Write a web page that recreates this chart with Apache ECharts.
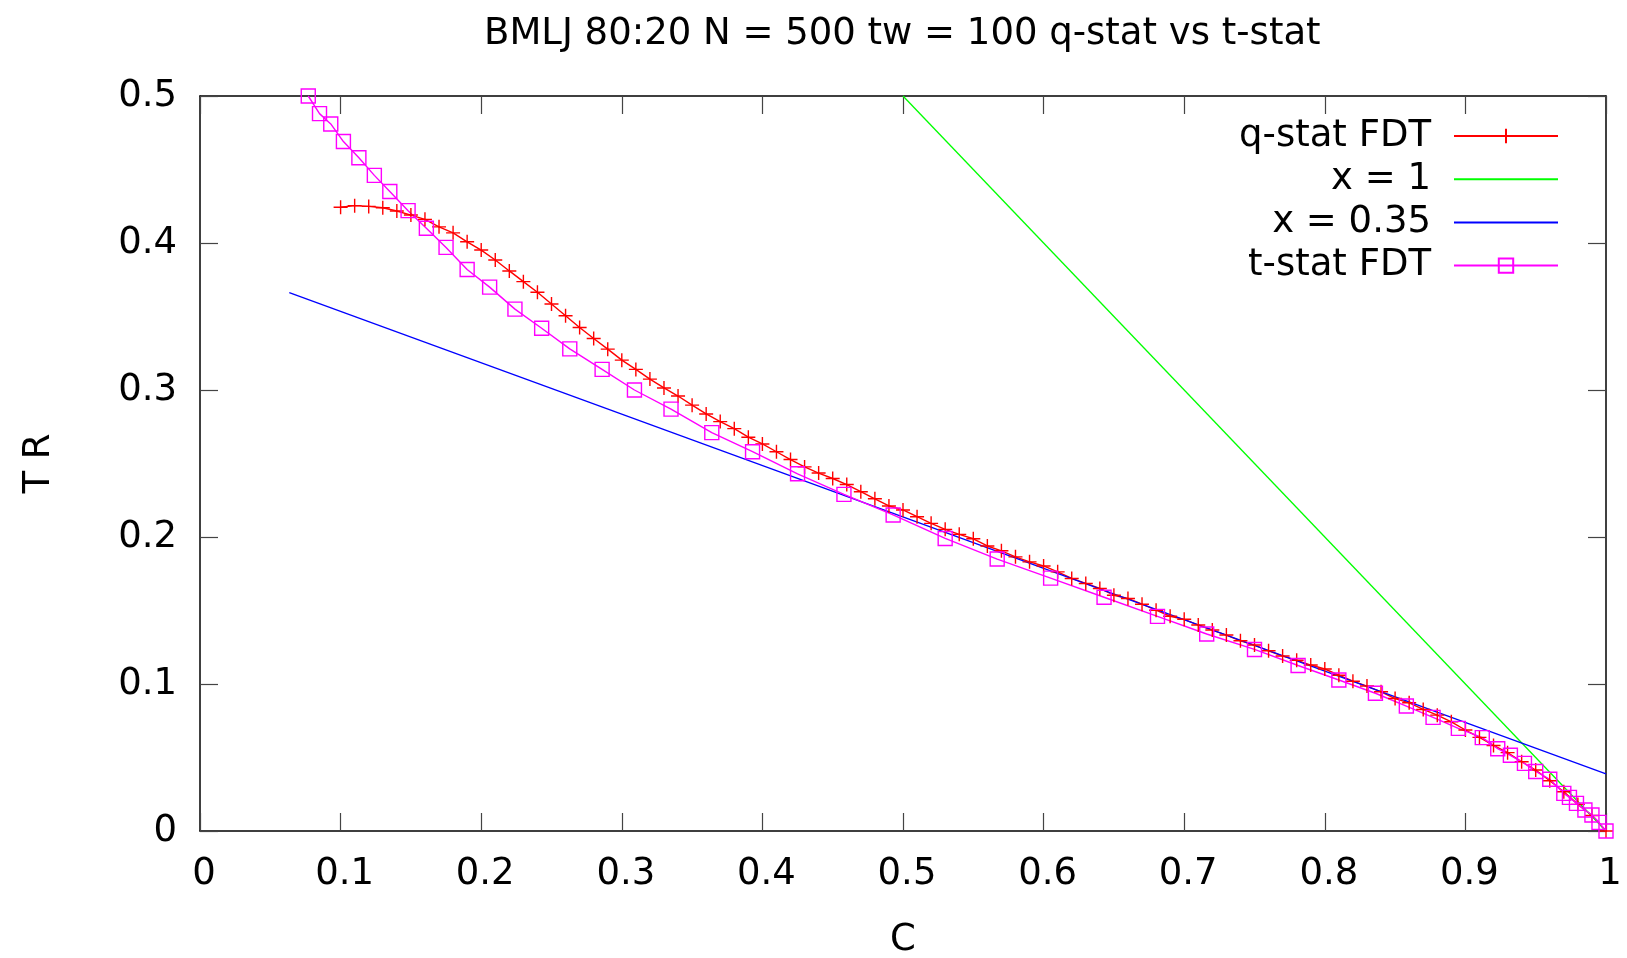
<!DOCTYPE html>
<html><head><meta charset="utf-8">
<script src="https://cdn.jsdelivr.net/npm/echarts@6/dist/echarts.min.js"></script>
<style>html,body{margin:0;padding:0;background:#fff}#chart{width:1627px;height:958px}</style>
</head><body><div id="chart"></div>
<script>
const titleText = 'BMLJ 80:20 N = 500 tw = 100 q-stat vs t-stat';
const xName = 'C';
const yName = 'T R';
const seriesNames = ['q-stat FDT', 'x = 1', 'x = 0.35', 't-stat FDT'];

const qX = [0.10,0.11,0.12,0.13,0.14,0.15,0.16,0.17,0.18,0.19,0.20,0.21,0.22,0.23,0.24,0.25,0.26,0.27,0.28,0.29,
            0.30,0.31,0.32,0.33,0.34,0.35,0.36,0.37,0.38,0.39,0.40,0.41,0.42,0.43,0.44,0.45,0.46,0.47,0.48,0.49,
            0.50,0.51,0.52,0.53,0.54,0.55,0.56,0.57,0.58,0.59,0.60,0.61,0.62,0.63,0.64,0.65,0.66,0.67,0.68,0.69,
            0.70,0.71,0.72,0.73,0.74,0.75,0.76,0.77,0.78,0.79,0.80,0.81,0.82,0.83,0.84,0.85,0.86,0.87,0.88,0.89,
            0.90,0.91,0.92,0.93,0.94,0.95,0.96,0.97,0.98,0.99,1.00];
const qY = [0.4243,0.4254,0.4249,0.4240,0.4218,0.4190,0.4161,0.4110,0.4069,0.4008,
            0.3952,0.3884,0.3810,0.3737,0.3665,0.3585,0.3505,0.3425,0.3350,0.3278,
            0.3203,0.3140,0.3074,0.3014,0.2959,0.2897,0.2837,0.2785,0.2737,0.2679,
            0.2633,0.2580,0.2527,0.2477,0.2435,0.2398,0.2357,0.2308,0.2260,0.2211,
            0.2184,0.2138,0.2093,0.2052,0.2018,0.1988,0.1939,0.1906,0.1865,0.1831,
            0.1803,0.1763,0.1718,0.1684,0.1650,0.1604,0.1582,0.1543,0.1502,0.1461,
            0.1440,0.1401,0.1367,0.1333,0.1294,0.1265,0.1226,0.1190,0.1162,0.1129,
            0.1102,0.1060,0.1019,0.0986,0.0947,0.0901,0.0872,0.0827,0.0788,0.0743,
            0.0687,0.0637,0.0582,0.0533,0.0471,0.0415,0.0342,0.0267,0.0181,0.0105,0.0000];

const tX = [0.077,0.085,0.093,0.102,0.113,0.124,0.135,0.148,0.161,0.175,0.190,0.206,0.224,0.243,0.263,0.286,
            0.309,0.335,0.364,0.393,0.425,0.458,0.493,0.530,0.567,0.605,0.643,0.681,0.716,0.750,0.781,0.810,
            0.836,0.858,0.877,0.895,0.912,0.923,0.932,0.942,0.950,0.960,0.970,0.974,0.979,0.985,0.990,0.995,1.000];
const tY = [0.500,0.488,0.481,0.469,0.458,0.446,0.435,0.422,0.410,0.397,0.382,0.370,0.355,0.342,0.328,0.314,
            0.300,0.287,0.271,0.258,0.243,0.229,0.215,0.199,0.185,0.172,0.159,0.146,0.134,0.1235,0.1126,0.1027,
            0.0937,0.0850,0.0773,0.0698,0.0635,0.0560,0.0515,0.0460,0.0405,0.0352,0.0256,0.0229,0.0188,0.0143,0.0109,0.0059,0.000];

const greenX = [0.5, 1.0];
const greenY = [0.5, 0.0];
const blueX = [0.0635, 1.0];
const blueY = [0.3663, 0.0388];

function zip(xs, ys) { return xs.map((x, i) => [x, ys[i]]); }

const FONT = 'DejaVu Sans';
const FS = 37;
const chart = echarts.init(document.getElementById('chart'), null, {renderer: 'canvas'});

function axisCommon(extra) {
  return Object.assign({
    type: 'value',
    axisLine: {show: true, onZero: false, lineStyle: {color: '#000', width: 1.5}},
    axisTick: {show: true, inside: true, length: 18, lineStyle: {color: '#444', width: 1.2}},
    splitLine: {show: false},
    axisLabel: {show: false}
  }, extra);
}

const option = {
  backgroundColor: '#fff',
  animation: false,
  title: {
    text: titleText, left: 484, top: 14, padding: 0,
    textStyle: {fontFamily: FONT, fontSize: FS, fontWeight: 'normal', color: '#000', lineHeight: 40}
  },
  grid: {left: 200, right: 21, top: 96, bottom: 127, containLabel: false, outerBoundsMode: 'none'},
  legend: {
    orient: 'vertical', align: 'right', right: 68, top: 116, padding: 0,
    itemWidth: 104, itemHeight: 18, itemGap: 3.2,
    textStyle: {fontFamily: FONT, fontSize: FS, color: '#000', lineHeight: 40, padding: [0, 18, 0, 0]},
    data: [
      {name: seriesNames[0]},
      {name: seriesNames[1], itemStyle: {opacity: 0}},
      {name: seriesNames[2], itemStyle: {opacity: 0}},
      {name: seriesNames[3]}
    ]
  },
  xAxis: [
    axisCommon({
      min: 0, max: 1, interval: 0.1, position: 'bottom',
      name: xName, nameLocation: 'middle', nameGap: 89,
      nameTextStyle: {fontFamily: FONT, fontSize: FS, color: '#000', lineHeight: 40},
      axisLabel: {show: true, margin: 23, fontFamily: FONT, fontSize: FS, color: '#000', lineHeight: 40, padding: [0, 0, 0, 8]}
    }),
    axisCommon({min: 0, max: 1, interval: 0.1, position: 'top'})
  ],
  yAxis: [
    axisCommon({
      min: 0, max: 0.5, interval: 0.1, position: 'left',
      name: yName, nameLocation: 'middle', nameGap: 141,
      nameTextStyle: {fontFamily: FONT, fontSize: FS, color: '#000', lineHeight: 40},
      axisLabel: {show: true, margin: 23, fontFamily: FONT, fontSize: FS, color: '#000', lineHeight: 40}
    }),
    axisCommon({min: 0, max: 0.5, interval: 0.1, position: 'right'})
  ],
  series: [
    {
      name: seriesNames[0], type: 'line', xAxisIndex: 0, yAxisIndex: 0, clip: false,
      data: zip(qX, qY),
      symbol: 'path://M5,0L5,10M0,5L10,5', symbolSize: 14, showAllSymbol: true,
      lineStyle: {color: '#ff0000', width: 1.4},
      itemStyle: {color: '#ff0000', borderColor: '#ff0000', borderWidth: 1.4}
    },
    {
      name: seriesNames[1], type: 'line', clip: false,
      data: zip(greenX, greenY), symbol: 'none',
      lineStyle: {color: '#00ff00', width: 1.3},
      itemStyle: {color: '#00ff00'}
    },
    {
      name: seriesNames[2], type: 'line', clip: false,
      data: zip(blueX, blueY), symbol: 'none',
      lineStyle: {color: '#0000ff', width: 1.3},
      itemStyle: {color: '#0000ff'}
    },
    {
      name: seriesNames[3], type: 'line', clip: false,
      data: zip(tX, tY),
      symbol: 'rect', symbolSize: 14, showAllSymbol: true,
      lineStyle: {color: '#ff00ff', width: 1.4},
      itemStyle: {color: 'rgba(255,255,255,0)', borderColor: '#ff00ff', borderWidth: 1.4}
    }
  ]
};
chart.setOption(option);
</script>
</body></html>
